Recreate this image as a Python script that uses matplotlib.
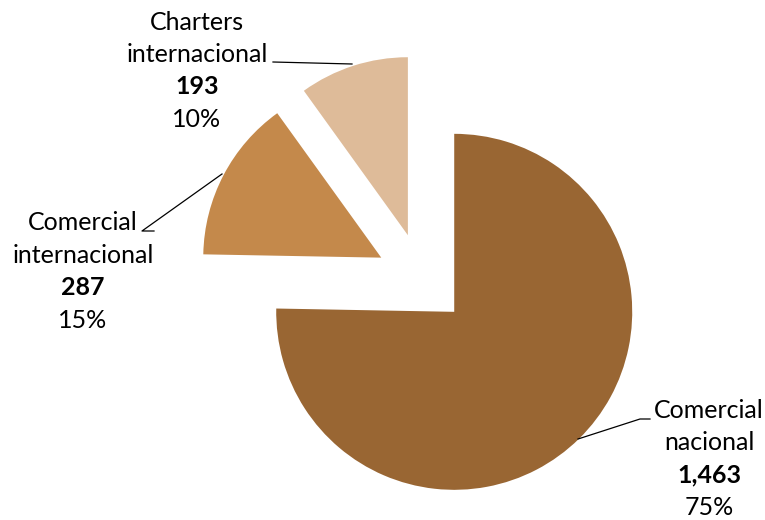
import matplotlib
matplotlib.use("Agg")
import matplotlib.pyplot as plt

categories = ["Comercial\nnacional", "Comercial\ninternacional", "Charters\ninternacional"]
values = [1463, 287, 193]
colors = ["#996633", "#C4894B", "#DEBB99"]

W, H = 765, 520
fig = plt.figure(figsize=(W / 100, H / 100), dpi=100)
ax = fig.add_axes([0, 0, 1, 1])
ax.set_xlim(0, W)
ax.set_ylim(0, H)
ax.set_aspect("equal")
ax.axis("off")

def Y(y):
    return H - y

cx, cy, r = 422, 279, 178
off = 46
ax.pie(values, colors=colors, startangle=90, counterclock=False,
       explode=[off, off, off], center=(cx, Y(cy)), radius=r,
       wedgeprops=dict(linewidth=0), frame=True)
ax.set_xlim(0, W)
ax.set_ylim(0, H)
ax.axis("off")

total = sum(values)
FONT = "Lato"
FS = 18
label_pos = [(709, 410), (83, 223), (197, 22)]
leaders = [
    [(650, 419), (640, 419), (578, 439)],
    [(154, 231), (142, 231), (222, 174)],
    [(273, 62), (352, 64)],
]
step = 32.4
for cat, v, (lx, ly), ld in zip(categories, values, label_pos, leaders):
    n1, n2 = cat.split("\n")
    pct = f"{round(100 * v / total)}%"
    lines = [(n1, "normal"), (n2, "normal"), (f"{v:,}", "bold"), (pct, "normal")]
    for i, (t, w) in enumerate(lines):
        ax.text(lx, Y(ly + i * step), t, ha="center", va="center",
                fontsize=FS, fontweight=w, family=FONT, color="black")
    xs = [p[0] for p in ld]
    ys = [Y(p[1]) for p in ld]
    ax.plot(xs, ys, color="black", lw=0.9)

fig.savefig("out.png", dpi=100)
